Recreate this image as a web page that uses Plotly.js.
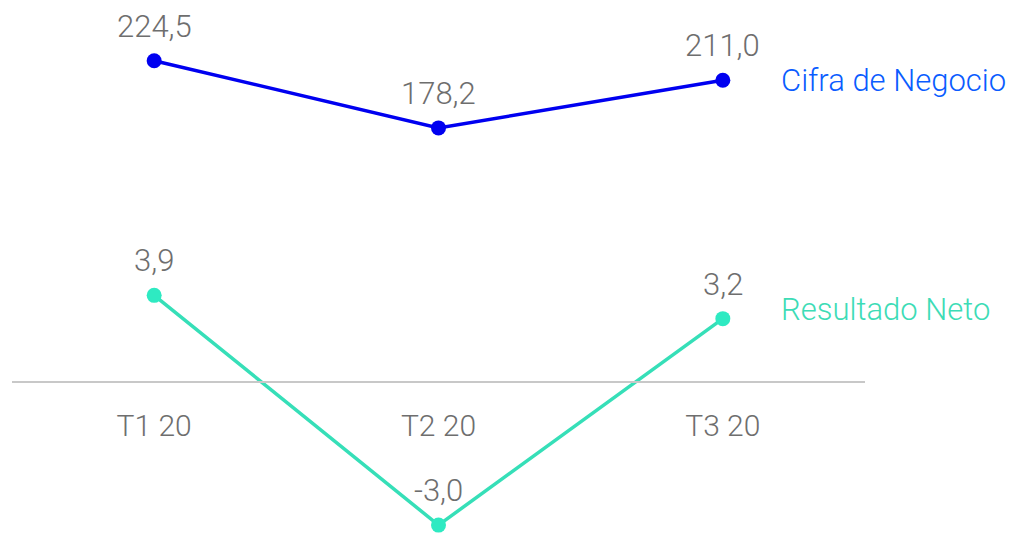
<!DOCTYPE html>
<html>
<head>
<meta charset="utf-8">
<script src="https://cdn.plot.ly/plotly-3.0.1.min.js"></script>
<style>html,body{margin:0;padding:0;background:#fff}#chart{width:1013px;height:534px}</style>
</head>
<body>
<div id="chart"></div>
<script>
const categories = ["T1 20", "T2 20", "T3 20"];
const cifraNegocio = [224.5, 178.2, 211.0];
const resultadoNeto = [3.9, -3.0, 3.2];
const cifraLabel = "Cifra de Negocio";
const resultadoLabel = "Resultado Neto";

const fmt = v => v.toFixed(1).replace(".", ",");
const FONT = "Roboto, sans-serif";
const GRAY = "#6e6e6e";
const LABEL_SIZE = 31;

const traces = [
  {
    x: categories, y: resultadoNeto, yaxis: "y", type: "scatter", mode: "lines+markers",
    line: {color: "#36dfb8", width: 3.5},
    marker: {color: "#2eeac2", size: 15},
    cliponaxis: false, hoverinfo: "skip", showlegend: false
  },
  {
    x: categories, y: cifraNegocio, yaxis: "y2", type: "scatter", mode: "lines+markers",
    line: {color: "#0000f0", width: 3.5},
    marker: {color: "#0000f0", size: 15},
    cliponaxis: false, hoverinfo: "skip", showlegend: false
  }
];

const valueLabel = (x, y, yref) => ({
  x: x, y: y, xref: "x", yref: yref, text: fmt(y),
  xanchor: "center", yanchor: "bottom", yshift: 14, showarrow: false,
  font: {family: FONT, size: LABEL_SIZE, color: GRAY, weight: 300}
});

const annotations = [
  ...categories.map((c, i) => valueLabel(c, cifraNegocio[i], "y2")),
  ...categories.map((c, i) => valueLabel(c, resultadoNeto[i], "y")),
  {x: categories[2], y: cifraNegocio[2], xref: "x", yref: "y2", text: cifraLabel,
   xanchor: "left", yanchor: "middle", xshift: 56, showarrow: false,
   font: {family: FONT, size: LABEL_SIZE, color: "#0a5cff", weight: 300}},
  {x: categories[2], y: resultadoNeto[2], xref: "x", yref: "y", text: resultadoLabel,
   xanchor: "left", yanchor: "middle", xshift: 56, yshift: 9, showarrow: false,
   font: {family: FONT, size: LABEL_SIZE, color: "#3ddcb6", weight: 300}}
];

const layout = {
  width: 1013, height: 534,
  margin: {l: 12, r: 148, t: 0, b: 0, pad: 0},
  paper_bgcolor: "#fff", plot_bgcolor: "#fff",
  font: {family: FONT, color: GRAY},
  xaxis: {
    type: "category", range: [-0.5, 2.5], anchor: "free", position: 0.2846,
    showline: true, linecolor: "#c8c8c8", linewidth: 2,
    showgrid: false, zeroline: false, ticks: "", ticklabelstandoff: 17,
    tickfont: {family: FONT, size: 30, color: GRAY, weight: 300}, fixedrange: true
  },
  yaxis: {range: [-3.268, 12.77], visible: false, showgrid: false, zeroline: false, fixedrange: true},
  yaxis2: {range: [-101.9, 266.4], overlaying: "y", visible: false, showgrid: false, zeroline: false, fixedrange: true},
  annotations: annotations
};

Plotly.newPlot("chart", traces, layout, {displayModeBar: false, staticPlot: true});
</script>
</body>
</html>
